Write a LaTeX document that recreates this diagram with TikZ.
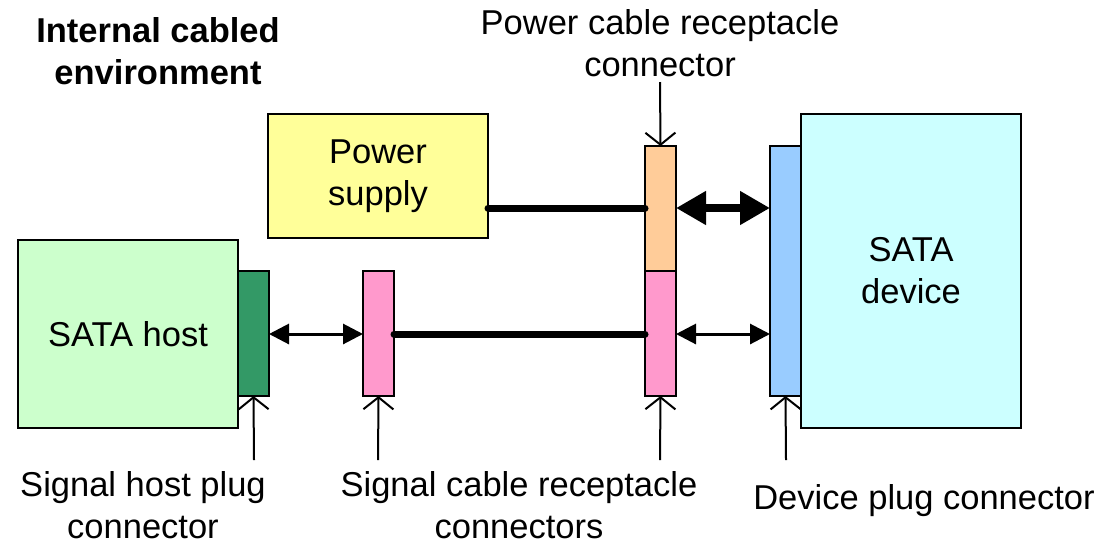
\documentclass[tikz,border=0pt]{standalone}
\usepackage{fontspec}
\setmainfont{Liberation Sans}
\usetikzlibrary{arrows.meta}
\definecolor{hostfill}{HTML}{CCFFCC}
\definecolor{plugfill}{HTML}{339966}
\definecolor{pinkfill}{HTML}{FF99CC}
\definecolor{psfill}{HTML}{FFFF99}
\definecolor{orfill}{HTML}{FFCC99}
\definecolor{bluefill}{HTML}{99CCFF}
\definecolor{devfill}{HTML}{CCFFFF}
\begin{document}
\begin{tikzpicture}[x=1pt,y=-1pt,
  box/.style={draw=black,line width=2.5pt,anchor=north west,inner sep=0pt,outer sep=0pt,font=\fontsize{34.5}{42}\selectfont,align=center},
  lbl/.style={font=\fontsize{34.5}{42}\selectfont,align=center,inner sep=0pt},
  cable/.style={line width=7pt,line cap=round},
  bigarr/.style={line width=8pt,{Triangle[length=30pt,width=32pt]}-{Triangle[length=30pt,width=32pt]}},
  smallarr/.style={line width=3pt,{Triangle[length=20pt,width=20pt]}-{Triangle[length=20pt,width=20pt]}},
  ptr/.style={line width=2pt,-{Straight Barb[length=12pt,width=30pt,line width=2pt]}}]
\useasboundingbox (0,0) rectangle (1110,542);
% boxes
\node[box,fill=hostfill,minimum width=220pt,minimum height=188pt] (host) at (18,240) {SATA host};
\node[box,fill=plugfill,minimum width=31pt,minimum height=125pt] (hplug) at (238,271) {};
\node[box,fill=pinkfill,minimum width=31pt,minimum height=125pt] (srec1) at (363,271) {};
\node[box,fill=psfill,minimum width=220pt,minimum height=124pt] (ps) at (268,114) {Power\\supply};
\node[box,fill=orfill,minimum width=31pt,minimum height=125pt] (prec) at (645,146) {};
\node[box,fill=pinkfill,minimum width=31pt,minimum height=125pt] (srec2) at (645,271) {};
\node[box,fill=devfill,minimum width=220pt,minimum height=314pt] (dev) at (801,114) {SATA\\device};
\node[box,fill=bluefill,minimum width=31pt,minimum height=250pt] (dplug) at (770,146) {};
% cables
\draw[cable] (ps.east |- 0,208) -- (prec.west |- 0,208);
\draw[cable] (srec1.east |- 0,334) -- (srec2.west |- 0,334);
% mating arrows
\draw[bigarr] (prec.east |- 0,208) -- (dplug.west |- 0,208);
\draw[smallarr] (srec2.east |- 0,334) -- (dplug.west |- 0,334);
\draw[smallarr] (hplug.east |- 0,334) -- (srec1.west |- 0,334);
% labels
\node[lbl,font=\fontsize{34.5}{42}\bfseries\selectfont] (title) at (158,51) {Internal cabled\\environment};
\node[lbl] (lprec) at (660,43) {Power cable receptacle\\connector};
\node[lbl] (lhplug) at (143,505) {Signal host plug\\connector};
\node[lbl] (lsrec) at (519,505) {Signal cable receptacle\\connectors};
\node[lbl] (ldplug) at (924,501) {Device plug connector};
% pointers
\coordinate (p1) at (254,460);
\coordinate (p2) at (378,460);
\coordinate (p3) at (660,460);
\coordinate (p4) at (786,460);
\coordinate (p5) at (660,82);
\draw[ptr] (p1) -- (hplug.south);
\draw[ptr] (p2) -- (srec1.south);
\draw[ptr] (p3) -- (srec2.south);
\draw[ptr] (p4) -- (dplug.south);
\draw[ptr] (p5) -- (prec.north);
\end{tikzpicture}
\end{document}
